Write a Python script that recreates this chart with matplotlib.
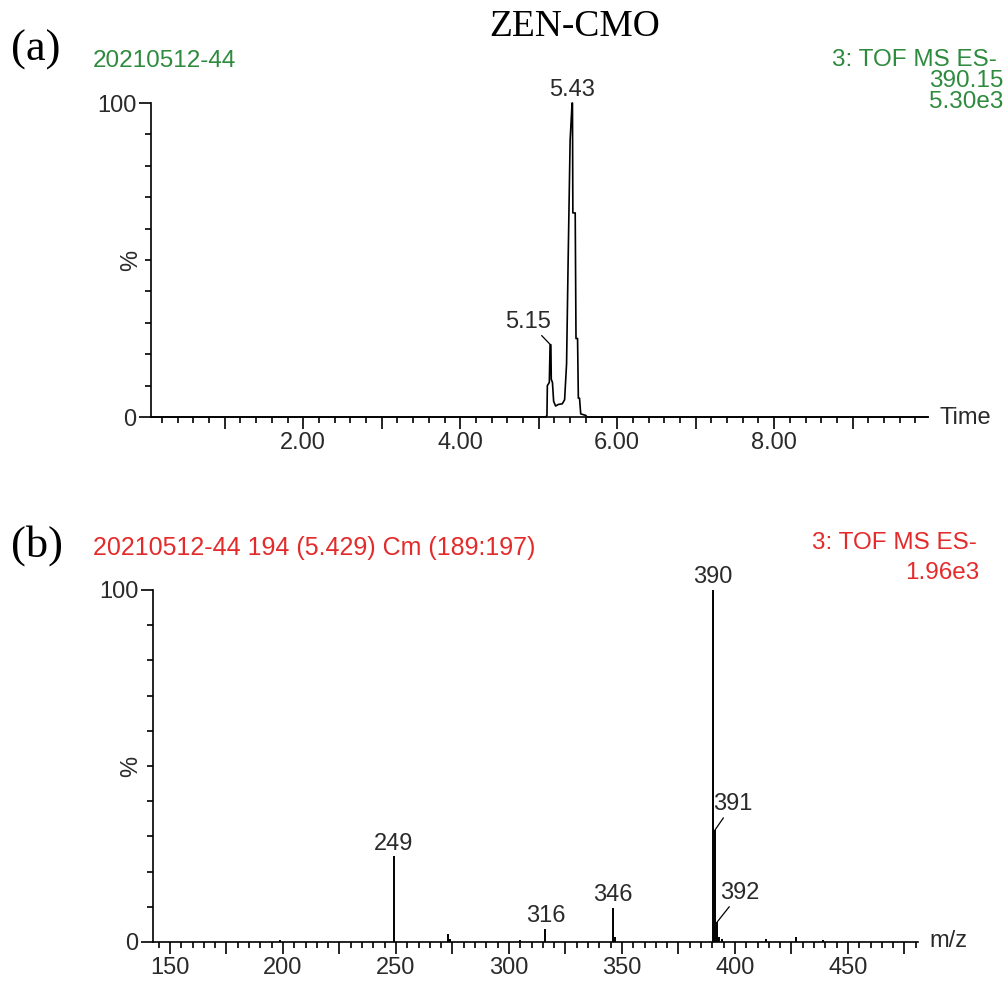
import matplotlib
matplotlib.use('Agg')
import matplotlib.pyplot as plt
import numpy as np

# ---------------- data ----------------
# (a) extracted ion chromatogram (retention time, min ; relative intensity, %)
rt = [0.06, 5.09, 5.105, 5.11, 5.135, 5.145, 5.155, 5.16, 5.175, 5.19, 5.215,
      5.25, 5.30, 5.33, 5.355, 5.375, 5.40, 5.425, 5.43, 5.435, 5.465, 5.475,
      5.495, 5.505, 5.52, 5.535, 5.60, 5.615, 9.96]
rt_int = [0, 0, 0.5, 10, 11, 23, 23, 12, 11, 5, 3.5,
          4, 4.2, 5.5, 17, 50, 88, 100, 100, 65, 65, 25,
          25, 6, 6, 1, 0.5, 0, 0]
rt_peak_labels = ["5.15", "5.43"]
rt_peak_pos = [5.15, 5.43]
rt_peak_int = [23, 100]
rt_major_ticks = [1, 2, 3, 4, 5, 6, 7, 8, 9]
rt_tick_labels = ["", "2.00", "", "4.00", "", "6.00", "", "8.00", ""]

# (b) mass spectrum (m/z ; relative intensity, %)
mz = [198.9, 249.1, 272.9, 273.9, 305.1, 316.1, 346.1, 347.1, 390.15, 391.15,
      392.15, 393.15, 394.1, 413.9, 427.2, 439.0]
mz_int = [0.6, 24.5, 2.2, 0.8, 0.6, 3.7, 9.7, 1.5, 100, 31.8,
          5.7, 1.5, 0.8, 0.8, 1.5, 0.5]
mz_peak_labels = ["249", "316", "346", "390", "391", "392"]
mz_peak_pos = [249.1, 316.1, 346.1, 390.15, 391.15, 392.15]
mz_peak_int = [24.5, 3.7, 9.7, 100, 31.8, 5.7]
mz_major_ticks = [150, 175, 200, 225, 250, 275, 300, 325, 350, 375, 400, 425, 450, 475]
mz_tick_labels = ["150", "", "200", "", "250", "", "300", "", "350", "", "400", "", "450", ""]

# ---------------- figure ----------------
W, H = 1006, 985
fig = plt.figure(figsize=(W / 100, H / 100), dpi=100)
SANS = "Liberation Sans"
SERIF = "Liberation Serif"
GREEN = "#2e8b3e"
RED = "#e32b2b"
TXT = "#2a2a2a"
FS = 17
HFS = 17.5


def fx(px):
    return px / W


def fy(py):
    return 1 - py / H


def style_axes(ax, xlim, majors, labels, minor_step):
    ax.set_xlim(*xlim)
    ax.set_ylim(0, 100)
    for s in ("top", "right"):
        ax.spines[s].set_visible(False)
    for s in ("left", "bottom"):
        ax.spines[s].set_linewidth(1.2)
    ax.set_xticks(majors)
    ax.set_xticklabels(labels, fontfamily=SANS, fontsize=FS, color=TXT)
    start = np.ceil(xlim[0] / minor_step) * minor_step
    mins = [v for v in np.arange(start, xlim[1], minor_step)]
    ax.set_xticks(mins, minor=True)
    ax.set_yticks([0, 100])
    ax.set_yticklabels(["0", "100"], fontfamily=SANS, fontsize=FS, color=TXT)
    ax.set_yticks(list(range(10, 100, 10)), minor=True)
    ax.tick_params(axis="both", which="major", direction="out", length=8.5, width=1.2, pad=2)
    ax.tick_params(axis="both", which="minor", direction="out", length=4.5, width=1.2)
    ax.patch.set_alpha(0)


# (a) chromatogram
ax1 = fig.add_axes([fx(151), fy(417), fx(928) - fx(151), fy(103) - fy(417)])
ax1.plot(rt, rt_int, color="black", lw=1.2, clip_on=False)
style_axes(ax1, (0.06, 9.96), rt_major_ticks, rt_tick_labels, 0.2)

ax1.annotate(rt_peak_labels[0], xy=(rt_peak_pos[0], rt_peak_int[0]),
             xytext=(-22, 23), textcoords="offset pixels", ha="center", va="center",
             fontfamily=SANS, fontsize=FS, color=TXT,
             arrowprops=dict(arrowstyle="-", lw=0.9, color="black", shrinkA=0, shrinkB=0))
ax1.annotate(rt_peak_labels[1], xy=(rt_peak_pos[1], rt_peak_int[1]),
             xytext=(0, 13), textcoords="offset pixels", ha="center", va="center",
             fontfamily=SANS, fontsize=FS, color=TXT)

# (b) mass spectrum
ax2 = fig.add_axes([fx(153), fy(942), fx(918) - fx(153), fy(590) - fy(942)])
ax2.vlines(mz, 0, mz_int, color="black", lw=1.4, clip_on=False)
style_axes(ax2, (142.5, 481), mz_major_ticks, mz_tick_labels, 5)

offsets = {"249": (0, 12), "316": (0, 13), "346": (0, 13), "390": (0, 13),
           "391": (18, 26), "392": (23, 29)}
for lab, x, y in zip(mz_peak_labels, mz_peak_pos, mz_peak_int):
    dx, dy = offsets[lab]
    kw = {}
    if dx != 0:
        kw["arrowprops"] = dict(arrowstyle="-", lw=0.9, color="black", shrinkA=0, shrinkB=0)
    ax2.annotate(lab, xy=(x, y), xytext=(dx, dy), textcoords="offset pixels",
                 ha="center", va="center", fontfamily=SANS, fontsize=FS, color=TXT, **kw)

# ---------------- texts ----------------
fig.text(fx(575), fy(27), "ZEN-CMO", ha="center", va="center", fontfamily=SERIF, fontsize=27, color="black")
fig.text(fx(11), fy(50), "(a)", ha="left", va="center", fontfamily=SERIF, fontsize=32, color="black")
fig.text(fx(11), fy(546), "(b)", ha="left", va="center", fontfamily=SERIF, fontsize=32, color="black")

fig.text(fx(93), fy(61), "20210512-44", ha="left", va="center", fontfamily=SANS, fontsize=HFS, color=GREEN)
fig.text(fx(997), fy(60), "3: TOF MS ES-", ha="right", va="center", fontfamily=SANS, fontsize=HFS, color=GREEN)
fig.text(fx(1003), fy(81), "390.15", ha="right", va="center", fontfamily=SANS, fontsize=HFS, color=GREEN)
fig.text(fx(1003), fy(102), "5.30e3", ha="right", va="center", fontfamily=SANS, fontsize=HFS, color=GREEN)

fig.text(fx(93), fy(548), "20210512-44 194 (5.429) Cm (189:197)", ha="left", va="center",
         fontfamily=SANS, fontsize=18, color=RED)
fig.text(fx(977), fy(543), "3: TOF MS ES-", ha="right", va="center", fontfamily=SANS, fontsize=HFS, color=RED)
fig.text(fx(979), fy(573), "1.96e3", ha="right", va="center", fontfamily=SANS, fontsize=HFS, color=RED)

fig.text(fx(131), fy(260), "%", rotation=90, ha="center", va="center", fontfamily=SANS, fontsize=FS, color=TXT)
fig.text(fx(131), fy(766), "%", rotation=90, ha="center", va="center", fontfamily=SANS, fontsize=FS, color=TXT)
fig.text(fx(940), fy(418), "Time", ha="left", va="center", fontfamily=SANS, fontsize=FS, color=TXT)
fig.text(fx(929), fy(941), "m/z", ha="left", va="center", fontfamily=SANS, fontsize=FS, color=TXT)

fig.savefig("out.png", dpi=100, facecolor="white")
